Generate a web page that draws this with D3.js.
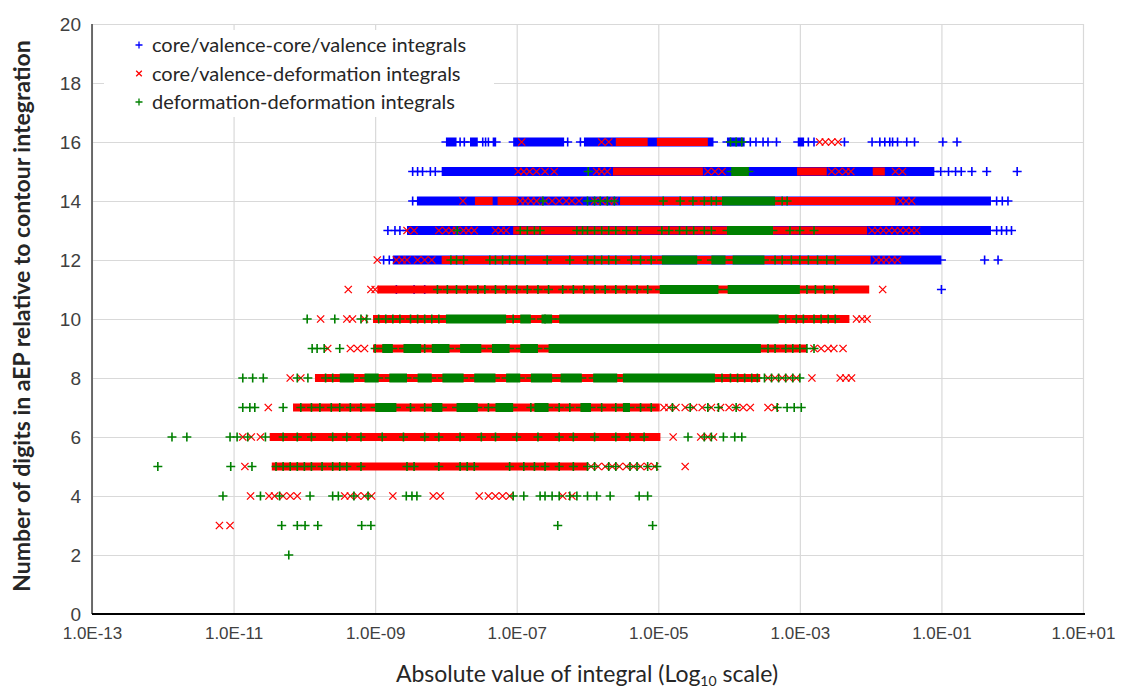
<!DOCTYPE html>
<html>
<head>
<meta charset="utf-8">
<script src="https://cdn.jsdelivr.net/npm/d3@7/dist/d3.min.js"></script>
<style>
	body { margin: 0; background: #fff; }
	svg { font-family: Lato, "Open Sans", sans-serif; }
	.grid line { stroke: #d9d9d9; stroke-width: 1.2; }
	.grid path { display: none; }
	.ticks path, .ticks line { display: none; }
	.ticks text { fill: #404040; font-size: 17px; }
</style>
</head>
<body>
<svg id="chart" width="1121" height="690"></svg>
<script>
// digits of agreement (y) vs log10 |integral| (x)
var yTicks = [0, 2, 4, 6, 8, 10, 12, 14, 16, 18, 20];
var xTickExps = [-13, -11, -9, -7, -5, -3, -1, 1];
var seriesNames = ["core/valence-core/valence integrals", "core/valence-deformation integrals", "deformation-deformation integrals"];

// dense runs: [digits, log10 from, log10 to]
var blueRuns = [
	[16, -8.0, -7.85], [16, -7.66, -7.55], [16, -7.34, -7.29], [16, -7.05, -6.33], [16, -6.05, -4.22], [16, -4.03, -3.78], [16, -3.03, -2.94],
	[15, -8.06, -1.1],
	[14, -8.41, -0.3],
	[13, -8.55, -0.3],
	[12, -8.75, -1.0]
];
// isolated points: [digits, [log10 values]]
var bluePoints = [
	[16, [-7.8, -7.74, -7.48, -7.44, -7.4, -6.28, -6.1, -3.7, -3.62, -3.52, -3.45, -3.33, -2.88, -2.8, -2.37, -1.98, -1.87, -1.8, -1.73, -1.69, -1.62, -1.49, -1.38, -0.98, -0.78]],
	[15, [-8.47, -8.4, -8.33, -8.22, -8.15, -1.01, -0.9, -0.8, -0.72, -0.57, -0.36, 0.07]],
	[14, [-8.47, -0.22, -0.14, -0.06]],
	[13, [-8.82, -8.72, -8.65, -0.22, -0.15, -0.08, -0.01]],
	[12, [-8.88, -8.8, -0.39, -0.2]],
	[11, [-8.7, -8.45, -8.3, -1.0]]
];

var redRuns = [
	[16, -5.6, -5.15], [16, -5.02, -4.3],
	[15, -5.64, -4.37], [15, -3.04, -2.62], [15, -1.97, -1.8],
	[14, -7.59, -7.34], [14, -7.27, -7.0], [14, -5.54, -1.65],
	[13, -7.05, -2.05],
	[12, -8.06, -2.0],
	[11, -8.97, -2.02],
	[10, -9.03, -2.3],
	[9, -9.03, -2.9],
	[8, -9.85, -3.56],
	[7, -10.16, -4.98],
	[6, -10.49, -4.97],
	[5, -10.46, -6.0]
];
var redPoints = [
	[16, [-6.93, -5.8, -5.7, -2.72, -2.64, -2.55, -2.46]],
	[15, [-6.98, -6.9, -6.82, -6.72, -6.6, -6.47, -5.87, -5.8, -5.72, -4.3, -4.2, -4.1, -2.55, -2.45, -2.35, -2.28, -1.65, -1.55]],
	[14, [-7.76, -6.95, -6.88, -6.8, -6.72, -6.6, -6.5, -6.4, -6.3, -6.22, -6.12, -5.9, -5.8, -5.7, -5.62, -1.58, -1.5, -1.42]],
	[13, [-8.55, -8.45, -8.1, -8.0, -7.92, -7.85, -7.75, -7.68, -7.6, -7.3, -7.22, -7.15, -1.98, -1.9, -1.82, -1.74, -1.66, -1.58, -1.5, -1.42, -1.35]],
	[12, [-8.97, -8.7, -8.62, -8.55, -8.4, -8.3, -8.2, -1.92, -1.85, -1.78, -1.7, -1.62]],
	[11, [-9.38, -9.06, -9.0, -1.83]],
	[10, [-9.77, -9.4, -9.32, -9.15, -2.2, -2.12, -2.05]],
	[9, [-9.67, -9.35, -9.25, -9.15, -2.8, -2.7, -2.6, -2.52, -2.39]],
	[8, [-10.2, -10.05, -3.45, -3.35, -3.25, -3.15, -3.05, -2.83, -2.43, -2.35, -2.27]],
	[7, [-10.51, -4.92, -4.85, -4.75, -4.62, -4.5, -4.38, -4.25, -4.12, -4.0, -3.9, -3.8, -3.7, -3.45, -3.35]],
	[6, [-10.87, -10.75, -10.62, -4.79, -4.4, -4.3, -4.22]],
	[5, [-10.84, -5.95, -5.85, -5.75, -5.65, -5.55, -5.45, -5.35, -5.25, -5.15, -5.05, -4.62]],
	[4, [-10.76, -10.5, -10.42, -10.3, -10.2, -10.1, -9.43, -9.35, -9.25, -9.15, -9.05, -8.75, -8.18, -8.08, -7.53, -7.4, -7.3, -7.2, -7.1, -6.35, -6.22]],
	[3, [-11.2, -11.05]]
];

var greenRuns = [
	[15, -3.97, -3.72],
	[14, -4.1, -3.35],
	[13, -4.03, -3.38],
	[12, -4.95, -4.45], [12, -4.25, -4.05], [12, -3.95, -3.5],
	[11, -4.98, -4.15], [11, -4.02, -3.0],
	[10, -8.0, -7.15], [10, -6.95, -6.8], [10, -6.65, -6.5], [10, -6.4, -3.3],
	[9, -8.9, -8.75], [9, -8.6, -8.35], [9, -8.2, -7.95], [9, -7.8, -7.5], [9, -7.35, -7.1], [9, -6.95, -6.7], [9, -6.55, -3.55],
	[8, -9.5, -9.3], [8, -9.15, -8.95], [8, -8.8, -8.55], [8, -8.4, -8.2], [8, -8.05, -7.75], [8, -7.6, -7.3], [8, -7.15, -6.95], [8, -6.8, -6.5], [8, -6.38, -6.08], [8, -5.92, -5.58], [8, -5.5, -4.2],
	[7, -9.0, -8.7], [7, -8.2, -8.05], [7, -7.85, -7.55], [7, -7.3, -7.05], [7, -6.75, -6.55], [7, -6.1, -5.95], [7, -5.5, -5.4]
];
var greenPoints = [
	[16, [-3.98, -3.9, -3.82]],
	[15, [-5.99]],
	[14, [-6.63, -6.0, -5.9, -5.82, -5.72, -5.62, -4.93, -4.69, -4.51, -4.35, -4.25, -4.18, -3.25, -3.18]],
	[13, [-7.84, -6.95, -6.85, -6.75, -6.67, -6.15, -6.07, -6.0, -5.9, -5.8, -5.7, -5.6, -5.45, -5.3, -4.95, -4.85, -4.7, -4.6, -4.5, -4.35, -4.25, -3.14, -3.0, -2.8]],
	[12, [-7.93, -7.85, -7.75, -7.38, -7.3, -7.2, -7.1, -7.0, -6.88, -6.57, -6.25, -6.0, -5.9, -5.8, -5.7, -5.6, -5.38, -5.25, -5.1, -3.35, -3.25, -3.12, -3.0, -2.88, -2.75, -2.62, -2.5]],
	[11, [-8.12, -7.98, -7.85, -7.7, -7.55, -7.45, -7.3, -7.15, -7.0, -6.85, -6.7, -6.55, -6.35, -6.2, -6.05, -5.9, -5.75, -5.6, -5.45, -5.3, -5.15, -2.9, -2.78, -2.65, -2.52]],
	[10, [-9.96, -9.57, -9.2, -9.12, -8.95, -8.85, -8.75, -8.65, -8.5, -8.4, -8.3, -8.2, -8.1, -7.05, -6.6, -3.2, -3.05, -2.95, -2.8, -2.7, -2.6, -2.5]],
	[9, [-9.89, -9.82, -9.72, -9.5, -9.0, -8.45, -8.3, -7.7, -7.25, -6.85, -3.45, -3.35, -3.2, -3.1, -3.0, -2.9, -2.8]],
	[8, [-10.87, -10.73, -10.58, -10.1, -9.95, -9.7, -9.6, -4.1, -3.98, -3.88, -3.78, -3.68, -3.6, -3.5, -3.4, -3.3, -3.2, -3.1, -3.0]],
	[7, [-10.87, -10.77, -10.7, -10.3, -10.05, -9.9, -9.78, -9.62, -9.5, -9.35, -9.2, -8.5, -8.3, -7.4, -6.8, -6.4, -6.25, -5.8, -5.6, -5.25, -5.1, -4.8, -4.55, -4.3, -4.15, -3.9, -3.32, -3.18, -3.08, -2.98]],
	[6, [-11.87, -11.66, -11.05, -10.95, -10.8, -10.55, -10.3, -10.1, -9.9, -9.6, -9.4, -9.2, -8.9, -8.6, -8.3, -8.1, -7.8, -7.5, -7.3, -7.0, -6.7, -6.4, -6.2, -5.9, -5.6, -5.4, -5.2, -4.58, -4.35, -4.25, -4.08, -3.92, -3.82]],
	[5, [-12.07, -11.04, -10.74, -10.4, -10.3, -10.2, -10.1, -10.0, -9.9, -9.75, -9.6, -9.5, -9.4, -9.2, -8.55, -8.45, -8.1, -7.8, -7.7, -7.6, -7.1, -6.9, -6.75, -6.6, -6.4, -6.2, -6.0, -5.9, -5.7, -5.6, -5.4, -5.3, -5.15, -5.02]],
	[4, [-11.15, -10.62, -10.35, -9.92, -9.6, -9.52, -9.3, -9.1, -8.56, -8.48, -8.41, -7.05, -6.9, -6.67, -6.6, -6.5, -6.4, -6.25, -6.15, -6.0, -5.87, -5.68, -5.27, -5.15]],
	[3, [-10.32, -10.1, -9.99, -9.81, -9.19, -9.06, -6.42, -5.08]],
	[2, [-10.22]]
];

var colors = ["#0000ff", "#ff0000", "#008000"];
var shapes = ["plus", "cross", "plus"];

var plotLeft = 92, plotRight = 1083, plotTop = 24, plotBottom = 614;
var svg = d3.select("#chart");

var x = d3.scaleLog().domain([1e-13, 1e1]).range([plotLeft, plotRight]);
var y = d3.scaleLinear().domain([0, 20]).range([plotBottom, plotTop]);
var toVal = function(e) { return Math.pow(10, e); };
var expLabel = function(v) {
	var e = Math.round(Math.log10(v));
	var s = Math.abs(e) < 10 ? "0" + Math.abs(e) : "" + Math.abs(e);
	return "1.0E" + (e < 0 ? "-" : "+") + s;
};

// grid
svg.append("g").attr("class", "grid")
	.attr("transform", "translate(0," + plotBottom + ")")
	.call(d3.axisBottom(x).tickValues(xTickExps.map(toVal)).tickSize(-(plotBottom - plotTop)).tickFormat(""));
svg.append("g").attr("class", "grid")
	.attr("transform", "translate(" + plotLeft + ",0)")
	.call(d3.axisLeft(y).tickValues(yTicks).tickSize(-(plotRight - plotLeft)).tickFormat(""));

// legend box sits over the grid
svg.append("rect").attr("x", 104).attr("y", 30).attr("width", 390).attr("height", 87).attr("fill", "#fff");

// tick labels
svg.append("g").attr("class", "ticks")
	.attr("transform", "translate(0," + plotBottom + ")")
	.call(d3.axisBottom(x).tickValues(xTickExps.map(toVal)).tickSize(0).tickPadding(13).tickFormat(expLabel));
svg.append("g").attr("class", "ticks")
	.attr("transform", "translate(" + plotLeft + ",0)")
	.call(d3.axisLeft(y).tickValues(yTicks).tickSize(0).tickPadding(11))
	.selectAll("text").style("font-size", "19px");

svg.append("line").attr("x1", plotLeft).attr("x2", plotLeft).attr("y1", plotTop).attr("y2", plotBottom)
	.attr("stroke", "#404040").attr("stroke-width", 1.5);

var markerPath = function(shape, r) {
	if (shape == "plus") {
		return "M" + (-r) + ",0H" + r + "M0," + (-r) + "V" + r;
	}
	var c = r * 0.8;
	return "M" + (-c) + "," + (-c) + "L" + c + "," + c + "M" + (-c) + "," + c + "L" + c + "," + (-c);
};

var plot = svg.append("g");
var drawSeries = function(runs, points, i) {
	var g = plot.append("g");
	var half = shapes[i] == "plus" ? 4.5 : 4;
	g.selectAll("rect").data(runs).enter().append("rect")
		.attr("x", function(d) { return x(toVal(d[1])); })
		.attr("width", function(d) { return x(toVal(d[2])) - x(toVal(d[1])); })
		.attr("y", function(d) { return y(d[0]) - half; })
		.attr("height", half * 2)
		.attr("fill", colors[i]);
	// thin centre line for plus bands
	if (shapes[i] == "plus") {
		g.selectAll("line.mid").data(runs).enter().append("line")
			.attr("class", "mid")
			.attr("x1", function(d) { return x(toVal(d[1])) - 4.5; })
			.attr("x2", function(d) { return x(toVal(d[2])) + 4.5; })
			.attr("y1", function(d) { return y(d[0]); })
			.attr("y2", function(d) { return y(d[0]); })
			.attr("stroke", colors[i]).attr("stroke-width", 1.5);
	}
	var flat = [];
	points.forEach(function(row) {
		row[1].forEach(function(e) { flat.push({ digits: row[0], v: toVal(e) }); });
	});
	g.selectAll("path").data(flat).enter().append("path")
		.attr("transform", function(d) { return "translate(" + x(d.v) + "," + y(d.digits) + ")"; })
		.attr("d", markerPath(shapes[i], 4.5))
		.attr("fill", "none")
		.attr("stroke", colors[i])
		.attr("stroke-width", shapes[i] == "plus" ? 1.6 : 1.3);
};
drawSeries(blueRuns, bluePoints, 0);
drawSeries(redRuns, redPoints, 1);
drawSeries(greenRuns, greenPoints, 2);

svg.append("line").attr("x1", plotLeft).attr("x2", plotRight + 2).attr("y1", plotBottom).attr("y2", plotBottom)
	.attr("stroke", "#000").attr("stroke-width", 2.2);

// legend
var legend = svg.append("g").selectAll("g").data(seriesNames).enter().append("g")
	.attr("transform", function(d, i) { return "translate(139," + (45 + i * 28.5) + ")"; });
legend.append("path")
	.attr("d", function(d, i) { return markerPath(shapes[i], 3.5); })
	.attr("fill", "none")
	.attr("stroke", function(d, i) { return colors[i]; })
	.attr("stroke-width", 1.3);
legend.append("text")
	.attr("x", 13).attr("y", 7)
	.attr("fill", "#262626")
	.style("font-size", "20px")
	.text(function(d) { return d; });

// axis titles
var xt = svg.append("text")
	.attr("x", 587).attr("y", 682)
	.attr("text-anchor", "middle")
	.attr("fill", "#262626")
	.style("font-size", "23px");
xt.append("tspan").text("Absolute value of integral (Log");
xt.append("tspan").attr("dy", 4).style("font-size", "14px").text("10");
xt.append("tspan").attr("dy", -4).text(" scale)");

svg.append("text")
	.attr("transform", "translate(30,316) rotate(-90)")
	.attr("text-anchor", "middle")
	.attr("fill", "#262626")
	.style("font-size", "23px")
	.style("font-weight", "bold")
	.text("Number of digits  in aEP relative to contour integration");
</script>
</body>
</html>
